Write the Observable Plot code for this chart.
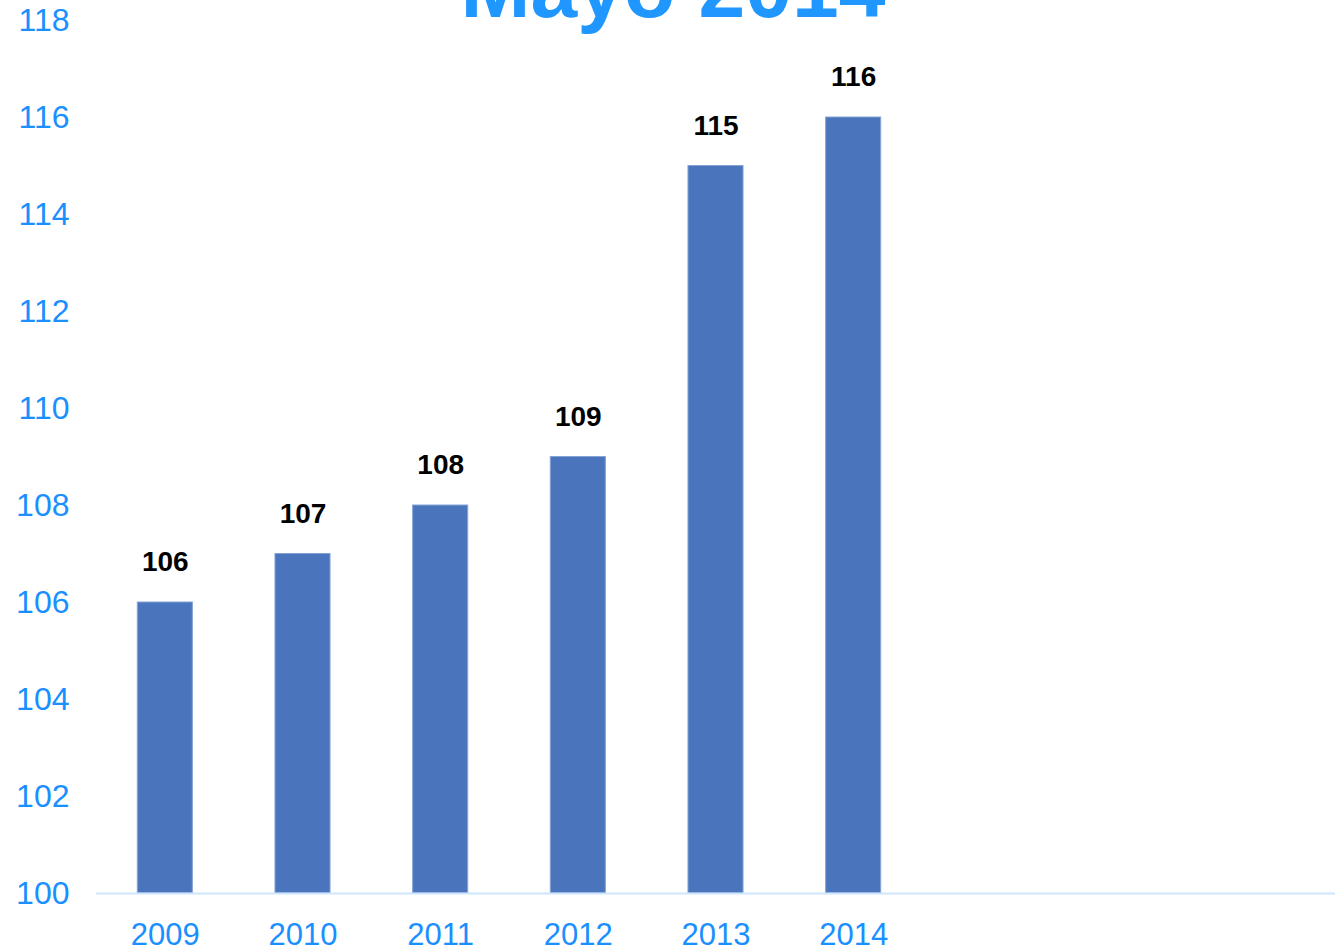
<!DOCTYPE html>
<html>
<head>
<meta charset="utf-8">
<script src="https://cdn.jsdelivr.net/npm/d3@7"></script>
<script src="https://cdn.jsdelivr.net/npm/@observablehq/plot@0.6"></script>
<style>
  html, body { margin: 0; padding: 0; background: #fff; overflow: hidden; }
  #chart svg { display: block; }
</style>
</head>
<body>
<div id="chart"></div>
<script>
const title = "Mayo 2014";
const years = ["2009", "2010", "2011", "2012", "2013", "2014"];
const values = [106, 107, 108, 109, 115, 116];
const emptySlots = [" ", "  ", "   "];
const yTicks = [100, 102, 104, 106, 108, 110, 112, 114, 116, 118];

const data = years.map((year, i) => ({year, value: values[i]}));
const font = "'Liberation Sans', Arial, sans-serif";
const blue = "#1A8FFF";

const chart = Plot.plot({
  width: 1335,
  height: 950,
  marginLeft: 96,
  marginRight: 0,
  marginTop: 20,
  marginBottom: 57,
  style: {fontFamily: font, background: "#fff", overflow: "visible"},
  x: {domain: [...years, ...emptySlots], paddingInner: 0.6, paddingOuter: 0.3, round: false, label: null},
  y: {domain: [100, 118], label: null},
  marks: [
    Plot.barY(data, {x: "year", y1: 100, y2: "value", fill: "#4A75BC", stroke: "#86A3D6", strokeWidth: 1}),
    Plot.ruleY([100], {stroke: "#CDE6FB", strokeWidth: 2}),
    Plot.axisY(yTicks, {tickSize: 0, tickPadding: 27, fontSize: 32, fill: blue, label: null}),
    Plot.axisX({tickSize: 0, tickPadding: 29, fontSize: 31, fill: blue, label: null}),
    Plot.text(data, {x: "year", y: "value", text: d => String(d.value), dy: -40, fontSize: 28, fontWeight: "bold", fill: "#000"})
  ]
});

d3.select(chart).append("text")
  .attr("x", 673)
  .attr("y", 17)
  .attr("text-anchor", "middle")
  .attr("font-family", font)
  .attr("font-size", 84)
  .attr("font-weight", "bold")
  .attr("fill", "#1F97FF")
  .text(title);

document.getElementById("chart").appendChild(chart);
</script>
</body>
</html>
